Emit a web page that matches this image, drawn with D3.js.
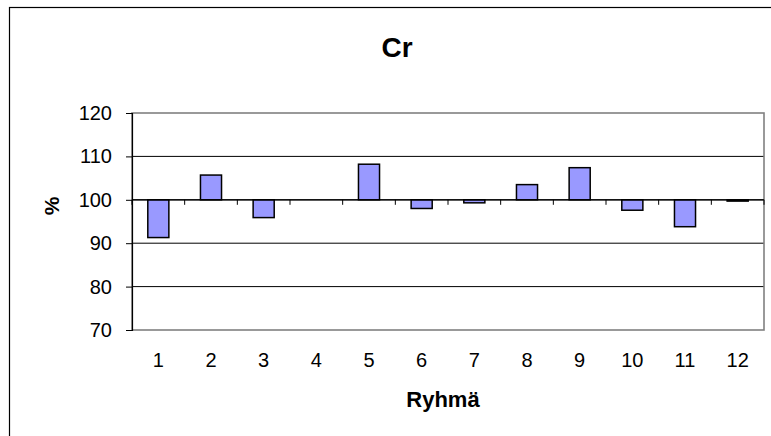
<!DOCTYPE html>
<html>
<head>
<meta charset="utf-8">
<script src="https://cdn.jsdelivr.net/npm/d3@7"></script>
<style>
  html, body { margin: 0; padding: 0; background: #fff; }
  svg { display: block; }
  text { font-family: "Liberation Sans", Arial, sans-serif; fill: #000; }
</style>
</head>
<body>
<svg id="chart" width="771" height="436"></svg>
<script>
  // data
  var groups = ['1', '2', '3', '4', '5', '6', '7', '8', '9', '10', '11', '12'];
  var values = [91.3, 105.7, 95.9, 100, 108.2, 98.0, 99.3, 103.5, 107.4, 97.6, 93.8, 99.7];
  var yTicks = [70, 80, 90, 100, 110, 120];
  var title = 'Cr';
  var xTitle = 'Ryhmä';
  var yTitle = '%';
  var baseValue = 100;

  var margin = { top: 113, right: 7, bottom: 106, left: 132 };
  var width = 771 - margin.left - margin.right;
  var height = 436 - margin.top - margin.bottom;

  var svg = d3.select('#chart');

  // outer chart border (runs off the picture on right and bottom)
  svg.append('rect')
    .attr('x', 9.5).attr('y', 7.5)
    .attr('width', 800).attr('height', 500)
    .attr('fill', 'none')
    .attr('stroke', '#000')
    .attr('stroke-width', 1.2);

  var g = svg.append('g')
    .attr('transform', 'translate(' + margin.left + ',' + margin.top + ')');

  var x = d3.scaleBand()
    .domain(groups)
    .range([0, width])
    .paddingInner(0.6)
    .paddingOuter(0.3);

  var y = d3.scaleLinear()
    .domain([70, 120])
    .range([height, 0]);

  // gridlines
  g.selectAll('.grid')
    .data(yTicks.filter(function (d) { return d !== 70 && d !== 120; }))
    .enter().append('line')
    .attr('x1', 0).attr('x2', width)
    .attr('y1', function (d) { return y(d); })
    .attr('y2', function (d) { return y(d); })
    .attr('stroke', '#000')
    .attr('stroke-width', 1);

  // plot area border
  g.append('rect')
    .attr('x', 0).attr('y', 0)
    .attr('width', width).attr('height', height)
    .attr('fill', 'none')
    .attr('stroke', '#808080')
    .attr('stroke-width', 1.6);

  // bars from the 100 line
  g.selectAll('.bar')
    .data(values)
    .enter().append('rect')
    .attr('x', function (d, i) { return x(groups[i]); })
    .attr('y', function (d) { return y(Math.max(d, baseValue)); })
    .attr('width', x.bandwidth())
    .attr('height', function (d) { return Math.abs(y(d) - y(baseValue)); })
    .attr('fill', '#9999FF')
    .attr('stroke', '#000')
    .attr('stroke-width', 1.5);

  // x axis line at 100 with ticks between categories
  var step = x.step();
  g.append('line')
    .attr('x1', 0).attr('x2', width)
    .attr('y1', y(baseValue)).attr('y2', y(baseValue))
    .attr('stroke', '#000')
    .attr('stroke-width', 1.2);

  g.selectAll('.xtick')
    .data(d3.range(groups.length + 1))
    .enter().append('line')
    .attr('x1', function (i) { return i * step; })
    .attr('x2', function (i) { return i * step; })
    .attr('y1', y(baseValue))
    .attr('y2', y(baseValue) + 5)
    .attr('stroke', '#000')
    .attr('stroke-width', 1);

  // x labels under the plot
  g.selectAll('.xlabel')
    .data(groups)
    .enter().append('text')
    .attr('x', function (d) { return x(d) + x.bandwidth() / 2; })
    .attr('y', height + 37)
    .attr('text-anchor', 'middle')
    .style('font-size', '20px')
    .text(function (d) { return d; });

  // y axis
  var yAxis = d3.axisLeft(y)
    .tickValues(yTicks)
    .tickSize(6)
    .tickPadding(14);

  var ya = g.append('g').call(yAxis);
  ya.select('.domain').attr('stroke', '#000').attr('stroke-width', 1.2);
  ya.selectAll('.tick line').attr('stroke', '#000');
  ya.selectAll('.tick text')
    .style('font-size', '20px')
    .style('font-family', '"Liberation Sans", Arial, sans-serif')
    .attr('fill', '#000');

  // titles
  svg.append('text')
    .attr('x', 397).attr('y', 57)
    .attr('text-anchor', 'middle')
    .style('font-size', '28px')
    .style('font-weight', 'bold')
    .text(title);

  svg.append('text')
    .attr('x', 443).attr('y', 407)
    .attr('text-anchor', 'middle')
    .style('font-size', '22px')
    .style('font-weight', 'bold')
    .text(xTitle);

  svg.append('text')
    .attr('transform', 'translate(59,206) rotate(-90)')
    .attr('text-anchor', 'middle')
    .style('font-size', '21px')
    .style('font-weight', 'bold')
    .text(yTitle);
</script>
</body>
</html>
